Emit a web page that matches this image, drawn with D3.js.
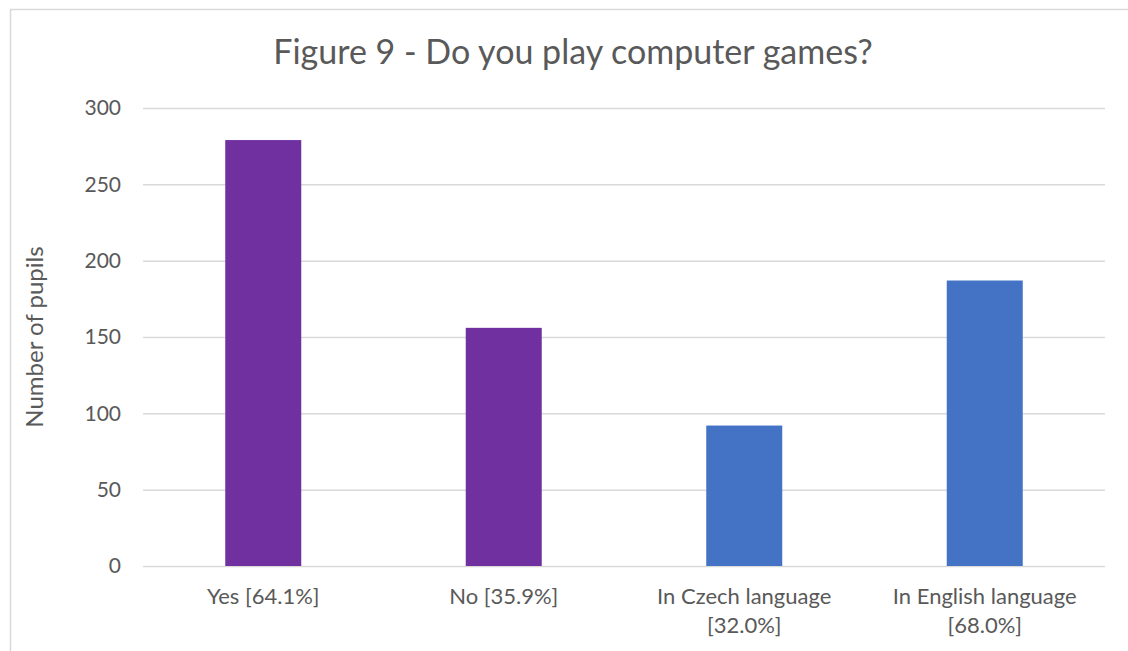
<!DOCTYPE html>
<html>
<head>
<meta charset="utf-8">
<script src="https://cdn.jsdelivr.net/npm/d3@7"></script>
<style>
  html, body { margin: 0; padding: 0; background: #fff; }
  svg { display: block; }
  text { font-family: Lato, "Open Sans", sans-serif; fill: #595959; }
</style>
</head>
<body>
<svg id="chart" width="1128" height="651"></svg>
<script>
// Survey answers: number of pupils per answer
const categories = ["Yes [64.1%]", "No [35.9%]", "In Czech language\n[32.0%]", "In English language\n[68.0%]"];
const pupils = [279, 156, 92, 187];
const barColors = ["#7030A0", "#7030A0", "#4472C4", "#4472C4"];
const yTicks = [0, 50, 100, 150, 200, 250, 300];
const title = "Figure 9 - Do you play computer games?";
const yTitle = "Number of pupils";

const svg = d3.select("#chart");
const margin = { left: 143, right: 23, top: 108, bottom: 85 };
const W = 1128, H = 651;

// chart frame (extends past the visible right/bottom edge)
svg.append("rect")
  .attr("x", 10.5).attr("y", 9.5)
  .attr("width", 1140).attr("height", 660)
  .attr("fill", "none").attr("stroke", "#d9d9d9").attr("stroke-width", 1.5);

const x = d3.scaleBand()
  .domain(categories)
  .range([margin.left, W - margin.right])
  .paddingInner(0.684)
  .paddingOuter(0.342);

const y = d3.scaleLinear()
  .domain([0, 300])
  .range([H - margin.bottom, margin.top]);

// gridlines + y labels via axis
const yAxis = svg.append("g")
  .attr("transform", `translate(${margin.left},0)`)
  .call(d3.axisLeft(y).tickValues(yTicks).tickSize(-(W - margin.left - margin.right)).tickPadding(22).tickFormat(d3.format("d")));
yAxis.select(".domain").remove();
yAxis.selectAll(".tick line").attr("stroke", "#d9d9d9").attr("stroke-width", 1.5);
yAxis.selectAll(".tick text")
  .style("font-family", "Lato, 'Open Sans', sans-serif")
  .attr("font-size", 21).attr("fill", "#595959");

// bars
svg.append("g").selectAll("rect")
  .data(categories)
  .join("rect")
  .attr("x", d => x(d))
  .attr("width", x.bandwidth())
  .attr("y", (d, i) => y(pupils[i]))
  .attr("height", (d, i) => y(0) - y(pupils[i]))
  .attr("fill", (d, i) => barColors[i]);

// category labels (may wrap onto two lines)
const xl = svg.append("g");
categories.forEach(c => {
  const t = xl.append("text")
    .attr("text-anchor", "middle")
    .attr("font-size", 22)
    .attr("x", x(c) + x.bandwidth() / 2)
    .attr("y", 604);
  c.split("\n").forEach((line, k) => {
    t.append("tspan")
      .attr("x", x(c) + x.bandwidth() / 2)
      .attr("dy", k === 0 ? 0 : 29)
      .text(line);
  });
});

// title
svg.append("text")
  .attr("x", 573).attr("y", 64)
  .attr("text-anchor", "middle")
  .attr("font-size", 34)
  .text(title);

// y-axis title
svg.append("text")
  .attr("transform", `translate(43,337) rotate(-90)`)
  .attr("text-anchor", "middle")
  .attr("font-size", 24)
  .text(yTitle);
</script>
</body>
</html>
